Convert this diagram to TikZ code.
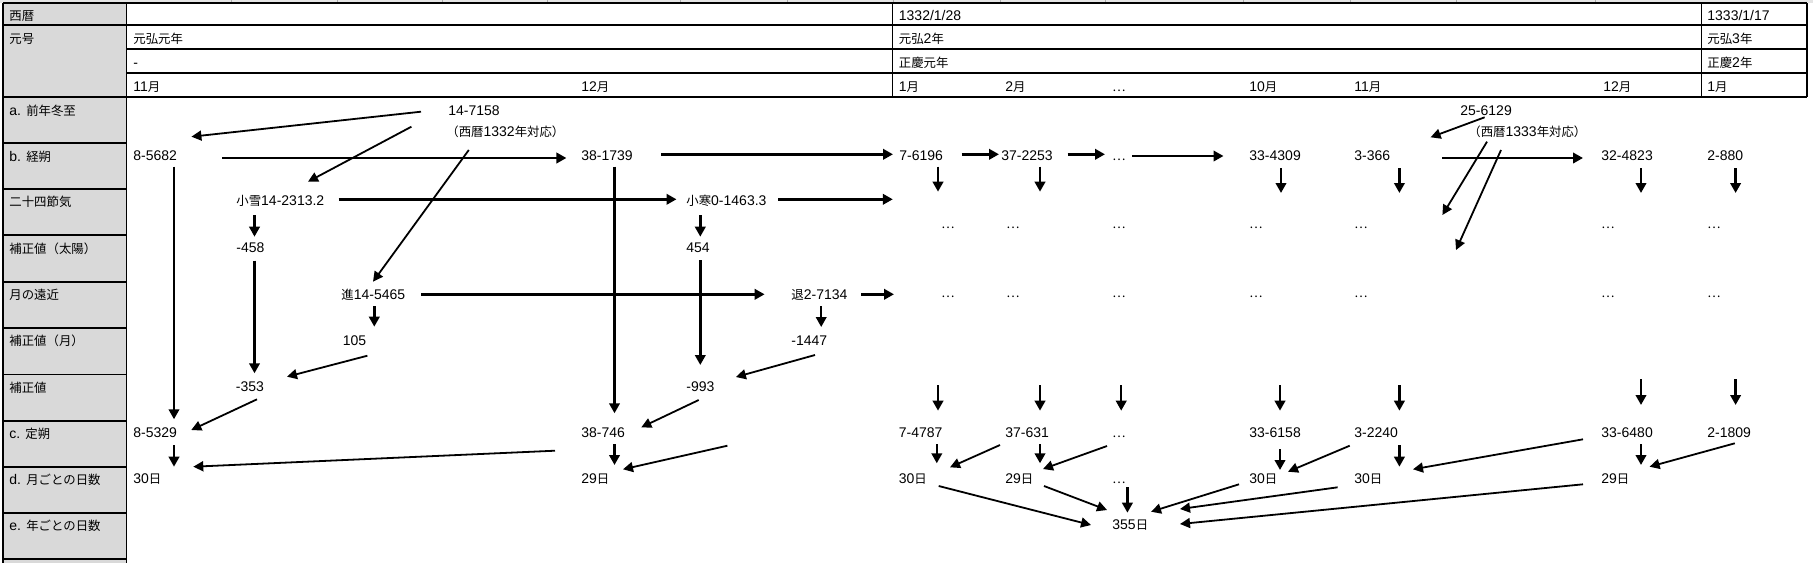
\documentclass[tikz,border=0pt]{standalone}
\usepackage{fontspec}
\setmainfont{Liberation Sans}
\newfontfamily\cjkfont{Noto Sans CJK JP}
\usetikzlibrary{arrows.meta}
\newcommand\jp[1]{{\cjkfont\fontsize{6.2pt}{7pt}\selectfont #1}}
\definecolor{cellgray}{RGB}{217,217,217}
\definecolor{bandgray}{RGB}{228,228,228}
\definecolor{divgray}{RGB}{170,170,170}
\newcommand\myS[3]{\coordinate (#1s) at (#2); \coordinate (#1e) at (#3); \draw[sarr] (#1s) -- (#1e);}
\newcommand\myD[3]{\coordinate (#1s) at (#2); \coordinate (#1e) at (#3); \draw[darr] (#1s) -- (#1e);}
\begin{document}
\begin{tikzpicture}[x=0.5pt,y=-0.5pt,
  txt/.style={anchor=base west,inner sep=0pt,font=\fontsize{7pt}{8pt}\selectfont},
  grid/.style={line width=0.55pt},
  sarr/.style={line width=1.25pt,-{Triangle[length=5pt,width=5.2pt]}},
  darr/.style={line width=0.9pt,-{Triangle[length=5pt,width=5pt]}}]
\useasboundingbox (0,0) rectangle (1813,563);
% top band
\fill[bandgray] (0,0) rectangle (1813,2.5);
\foreach \x in {231.5,337,442.5,547,680,787.5,892.8,1000,1105,1243,1350,1456,1595}
  \draw[divgray,line width=0.3pt] (\x,0) -- (\x,2.5);
% gray label column
\fill[cellgray] (3,3) rectangle (126.5,563);
\draw[grid] (3,3) -- (3,563) (126.5,3) -- (126.5,563);
\foreach \y in {3,25,97,143,189,235,282,328,374.5,421,467,513,559}
  \draw[grid] (3,\y) -- (126.5,\y);
% header grid
\foreach \y in {3,25,49,73,97}
  \draw[grid] (126.5,\y) -- (1807,\y);
\foreach \x in {892.8,1701.6,1807}
  \draw[grid] (\x,3) -- (\x,97);
% labels
\node[txt] (l0) at (9,20.5) {\jp{西暦}};
\node[txt] (l1) at (9,43) {\jp{元号}};
\node[txt] (l2) at (9,115) {a. \jp{前年冬至}};
\node[txt] (l3) at (9,161) {b. \jp{経朔}};
\node[txt] (l4) at (9,206) {\jp{二十四節気}};
\node[txt] (l5) at (9,253) {\jp{補正値（太陽）}};
\node[txt] (l6) at (9,299) {\jp{月の遠近}};
\node[txt] (l7) at (9,345) {\jp{補正値（月）}};
\node[txt] (l8) at (9,392) {\jp{補正値}};
\node[txt] (l9) at (9,438) {c. \jp{定朔}};
\node[txt] (l10) at (9,484) {d. \jp{月ごとの日数}};
\node[txt] (l11) at (9,530) {e. \jp{年ごとの日数}};
% header cells
\node[txt] (hd1) at (898.5,20) {1332/1/28};
\node[txt] (hd2) at (1707,20) {1333/1/17};
\node[txt] (g1) at (133,43) {\jp{元弘元年}};
\node[txt] (g2) at (898.5,43) {\jp{元弘}2\jp{年}};
\node[txt] (g3) at (1707,43) {\jp{元弘}3\jp{年}};
\node[txt] (s1) at (133,67) {-};
\node[txt] (s2) at (898.5,67) {\jp{正慶元年}};
\node[txt] (s3) at (1707,67) {\jp{正慶}2\jp{年}};
\node[txt] (m1) at (133,91) {11\jp{月}};
\node[txt] (m2) at (581,91) {12\jp{月}};
\node[txt] (m3) at (898.5,91) {1\jp{月}};
\node[txt] (m4) at (1005,91) {2\jp{月}};
\node[txt] (m5) at (1112,91) {\jp{…}};
\node[txt] (m6) at (1249,91) {10\jp{月}};
\node[txt] (m7) at (1354,91) {11\jp{月}};
\node[txt] (m8) at (1603,91) {12\jp{月}};
\node[txt] (m9) at (1707,91) {1\jp{月}};
% row a
\node[txt] (a1) at (448,115) {14-7158};
\node[txt] (a1n) at (446,136) {\jp{（西暦}1332\jp{年対応）}};
\node[txt] (a2) at (1460,115) {25-6129};
\node[txt] (a2n) at (1468,136) {\jp{（西暦}1333\jp{年対応）}};
% row b
\node[txt] (b1) at (133,160) {8-5682};
\node[txt] (b2) at (581,160) {38-1739};
\node[txt] (b3) at (899,160) {7-6196};
\node[txt] (b4) at (1001,160) {37-2253};
\node[txt] (b5) at (1112,160) {\jp{…}};
\node[txt] (b6) at (1249,160) {33-4309};
\node[txt] (b7) at (1354,160) {3-366};
\node[txt] (b8) at (1601,160) {32-4823};
\node[txt] (b9) at (1707,160) {2-880};
% 24 sekki
\node[txt] (t1) at (236,205) {\jp{小雪}14-2313.2};
\node[txt] (t2) at (686,205) {\jp{小寒}0-1463.3};
\foreach \x [count=\i] in {941,1006,1112,1249,1354,1601,1707} {
  \node[txt] (q\i) at (\x,228) {\jp{…}};
  \node[txt] (p\i) at (\x,297) {\jp{…}};
}
\node[txt] (k1) at (236,252) {-458};
\node[txt] (k2) at (686,252) {454};
\node[txt] (e1) at (341,299) {\jp{進}14-5465};
\node[txt] (e2) at (791,299) {\jp{退}2-7134};
\node[txt] (f1) at (342.5,345) {105};
\node[txt] (f2) at (791,345) {-1447};
\node[txt] (h1) at (235.5,391) {-353};
\node[txt] (h2) at (686,391) {-993};
% row c
\node[txt] (c1) at (133,437) {8-5329};
\node[txt] (c2) at (581,437) {38-746};
\node[txt] (c3) at (898.5,437) {7-4787};
\node[txt] (c4) at (1005,437) {37-631};
\node[txt] (c5) at (1112,437) {\jp{…}};
\node[txt] (c6) at (1249,437) {33-6158};
\node[txt] (c7) at (1354,437) {3-2240};
\node[txt] (c8) at (1601,437) {33-6480};
\node[txt] (c9) at (1707,437) {2-1809};
% row d
\node[txt] (d1) at (133,483) {30\jp{日}};
\node[txt] (d2) at (581,483) {29\jp{日}};
\node[txt] (d3) at (898.5,483) {30\jp{日}};
\node[txt] (d4) at (1005,483) {29\jp{日}};
\node[txt] (d5) at (1112,483) {\jp{…}};
\node[txt] (d6) at (1249,483) {30\jp{日}};
\node[txt] (d7) at (1354,483) {30\jp{日}};
\node[txt] (d8) at (1601,483) {29\jp{日}};
% row e
\node[txt] (y1) at (1112,529) {355\jp{日}};
% straight arrows
\myS{r1}{222,158}{566.4,158}
\myS{r2}{661,154.3}{893,154.3}
\myS{r3}{961.7,154.3}{999,154.3}
\myS{r4}{1067.7,154.3}{1105,154.3}
\myS{r5}{1132,156}{1223.5,156}
\myS{r6}{1442,158}{1583,158}
\myS{v1}{938,166.7}{938,191.7}
\myS{v2}{1040,166.7}{1040,191.7}
\myS{v3}{1281,168}{1281,193}
\myS{v4}{1399.4,168}{1399.4,193}
\myS{v5}{1641,168}{1641,193}
\myS{v6}{1735.6,168}{1735.6,193}
\myS{r7}{338.7,199.3}{676.5,199.3}
\myS{r8}{778,199.3}{892.8,199.3}
\myS{v7}{254.5,215}{254.5,236.7}
\myS{v8}{700.3,215}{700.3,236.7}
\myS{v9}{254.5,260.7}{254.5,373.3}
\myS{v10}{700.3,260}{700.3,365}
\myS{r9}{421,294.3}{764.6,294.3}
\myS{r10}{861.4,294.3}{894,294.3}
\myS{v11}{374.3,306}{374.3,326.7}
\myS{v12}{821.2,306}{821.2,327}
\myS{v13}{174,166.7}{174,419.3}
\myS{v14}{614.5,166.7}{614.5,413.3}
\myS{v15}{938,385}{938,410.7}
\myS{v16}{1040,385}{1040,410.7}
\myS{v17}{1121.2,385}{1121.2,410.7}
\myS{v18}{1280,385}{1280,410.7}
\myS{v19}{1399.4,385}{1399.4,410.7}
\myS{v20}{1641,379}{1641,405}
\myS{v21}{1735.6,379}{1735.6,405}
\myS{v22}{174,445}{174,466.7}
\myS{v23}{614.5,444}{614.5,465}
\myS{v24}{936.8,444}{936.8,463.3}
\myS{v25}{1040,444}{1040,463.3}
\myS{v26}{1280,449}{1280,470}
\myS{v27}{1399.4,445}{1399.4,466.7}
\myS{v28}{1641,444}{1641,465}
\myS{v29}{1127.4,487}{1127.4,512.7}
% diagonal arrows
\myD{g1}{421,111.7}{191.4,136.7}
\myD{g2}{411.4,126.7}{308,181.7}
\myD{g3}{468.8,150}{373,281.7}
\myD{g4}{1484.6,117.3}{1430.6,137.3}
\myD{g5}{1487,141.7}{1442.4,215}
\myD{g6}{1501,150}{1456,250}
\myD{g7}{367.4,355.7}{287,376.7}
\myD{g8}{815,355}{735.9,377}
\myD{g9}{257,399.3}{191.3,430}
\myD{g10}{698.7,400}{641.3,427.3}
\myD{g11}{555,450.7}{193.3,466.7}
\myD{g12}{727.4,445.7}{623,469.3}
\myD{g13}{1000,445}{950,467.3}
\myD{g14}{1107,446}{1043,469}
\myD{g15}{1349.7,445.7}{1288,471.7}
\myD{g16}{1583,439.3}{1413,469.3}
\myD{g17}{1734.8,443.3}{1649.6,466.7}
\myD{g18}{938.7,486}{1091,525}
\myD{g19}{1044,486}{1107,510}
\myD{g20}{1239,484.3}{1151,511.7}
\myD{g21}{1337.6,487.3}{1180,509}
\myD{g22}{1583,484.3}{1180,524}
\end{tikzpicture}
\end{document}
